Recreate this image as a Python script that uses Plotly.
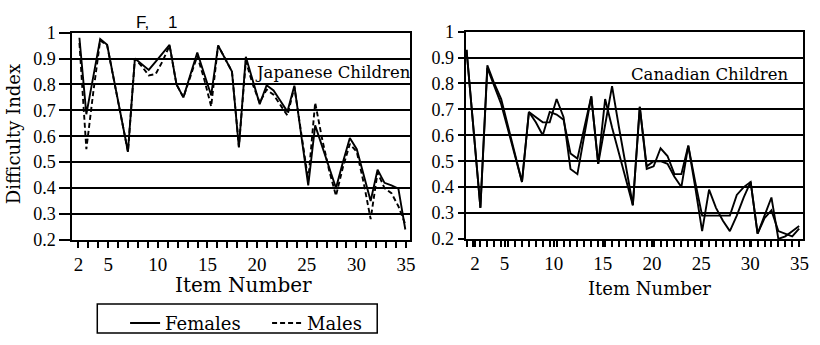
import numpy as np
import plotly.graph_objects as go

# Difficulty index per test item, Japanese children
jp_female = [0.98, 0.685, 0.83, 0.975, 0.953, 0.815, 0.678, 0.54, 0.90, 0.878,
             0.856, 0.888, 0.921, 0.953, 0.80, 0.75, 0.837, 0.923, 0.84, 0.758,
             0.95, 0.90, 0.85, 0.557, 0.907, 0.815, 0.724, 0.797, 0.777, 0.736,
             0.695, 0.795, 0.60, 0.41, 0.642, 0.561, 0.481, 0.40, 0.50, 0.593,
             0.55, 0.45, 0.35, 0.471, 0.42, 0.41, 0.398, 0.24]
jp_male = [0.96, 0.55, 0.77, 0.97, 0.95, 0.81, 0.68, 0.54, 0.90, 0.87,
           0.835, 0.84, 0.89, 0.95, 0.80, 0.75, 0.83, 0.91, 0.82, 0.715,
           0.95, 0.90, 0.85, 0.56, 0.89, 0.80, 0.73, 0.78, 0.76, 0.72,
           0.68, 0.79, 0.60, 0.43, 0.73, 0.59, 0.47, 0.37, 0.48, 0.57,
           0.54, 0.42, 0.28, 0.46, 0.40, 0.38, 0.33, 0.26]

# Difficulty index per test item, Canadian children
ca_female = [0.93, 0.62, 0.32, 0.87, 0.80, 0.74, 0.63, 0.52, 0.42, 0.69,
             0.67, 0.65, 0.65, 0.74, 0.67, 0.47, 0.45, 0.60, 0.75, 0.49,
             0.74, 0.63, 0.53, 0.43, 0.33, 0.71, 0.47, 0.48, 0.55, 0.52,
             0.45, 0.45, 0.56, 0.40, 0.23, 0.39, 0.32, 0.27, 0.23, 0.29,
             0.36, 0.42, 0.22, 0.29, 0.36, 0.20, 0.21, 0.23, 0.25]
ca_male = [0.93, 0.62, 0.32, 0.86, 0.79, 0.72, 0.62, 0.52, 0.42, 0.69,
           0.65, 0.60, 0.69, 0.68, 0.66, 0.53, 0.51, 0.63, 0.75, 0.49,
           0.64, 0.79, 0.63, 0.48, 0.33, 0.71, 0.48, 0.50, 0.50, 0.49,
           0.44, 0.40, 0.56, 0.42, 0.29, 0.29, 0.29, 0.29, 0.29, 0.37,
           0.40, 0.42, 0.22, 0.28, 0.31, 0.23, 0.22, 0.21, 0.24]

item_ticks = [2, 5, 10, 15, 20, 25, 30, 35]
index_ticks = [0.2, 0.3, 0.4, 0.5, 0.6, 0.7, 0.8, 0.9, 1.0]
index_labels = ["0.2", "0.3", "0.4", "0.5", "0.6", "0.7", "0.8", "0.9", "1"]

# first and last plotted item positions on each panel's item axis
jp_span = (2.1, 34.93)
ca_span = (1.13, 34.97)
jp_x = np.linspace(jp_span[0], jp_span[1], len(jp_female))
ca_x = np.linspace(ca_span[0], ca_span[1], len(ca_female))
ca_step = (ca_span[1] - ca_span[0]) / (len(ca_female) - 1)

W, H = 820, 345
SERIF = "Liberation Serif"
WIDE_SERIF = "DejaVu Serif"


def px(v):
    return v / W


def py(v):
    return 1 - v / H


fig = go.Figure()
line_w = 1.9
fig.add_trace(go.Scatter(x=jp_x, y=jp_female, mode="lines", name="Females",
                         line=dict(color="black", width=line_w), xaxis="x", yaxis="y"))
fig.add_trace(go.Scatter(x=jp_x, y=jp_male, mode="lines", name="Males",
                         line=dict(color="black", width=line_w, dash="5px,3px"),
                         xaxis="x", yaxis="y"))
fig.add_trace(go.Scatter(x=ca_x, y=ca_female, mode="lines", showlegend=False,
                         line=dict(color="black", width=line_w), xaxis="x2", yaxis="y2"))
fig.add_trace(go.Scatter(x=ca_x, y=ca_male, mode="lines", showlegend=False,
                         line=dict(color="black", width=line_w), xaxis="x2", yaxis="y2"))

tick_font = dict(family=SERIF, size=19, color="black")


def x_axis(domain, rng, minor_step, minor_start):
    return dict(domain=domain, range=rng, tickmode="array", tickvals=item_ticks,
                ticktext=[str(t) for t in item_ticks], ticks="outside", ticklen=6,
                tickwidth=1.5, tickcolor="black", showline=True, mirror=True,
                linecolor="black", linewidth=2, showgrid=False, zeroline=False,
                tickfont=tick_font,
                minor=dict(ticks="outside", ticklen=6, tickwidth=1.5, tickcolor="black",
                           dtick=minor_step, tick0=minor_start, showgrid=False))


def y_axis(domain, anchor, ticklen):
    return dict(domain=domain, range=[0.2, 1.0], anchor=anchor, tickmode="array",
                tickvals=index_ticks, ticktext=index_labels, ticks="outside",
                ticklen=ticklen, tickwidth=1.8, tickcolor="black", showline=True,
                mirror=True, linecolor="black", linewidth=2, showgrid=True,
                gridcolor="black", gridwidth=1.8, zeroline=False,
                tickfont=dict(family=SERIF, size=18, color="black"))


fig.update_layout(
    width=W, height=H,
    margin=dict(l=0, r=0, t=0, b=0),
    paper_bgcolor="white", plot_bgcolor="white",
    xaxis=x_axis([px(73), px(413)], [1.4, 35.4], 1, 2),
    yaxis=y_axis([py(244), py(24)], "x", 11),
    xaxis2=dict(x_axis([px(469), px(809)], [1.03, 35.37], ca_step, ca_span[0]), anchor="y2"),
    yaxis2=y_axis([py(243), py(23)], "x2", 6),
    showlegend=True,
    legend=dict(orientation="h", x=px(126), y=py(313), xanchor="left", yanchor="top",
                borderwidth=0, bgcolor="rgba(0,0,0,0)",
                font=dict(family=WIDE_SERIF, size=18, color="black"),
                entrywidth=97, itemwidth=30),
    # frame drawn around the legend entries
    shapes=[dict(type="rect", xref="paper", yref="paper",
                 x0=px(98), x1=px(380), y0=py(343), y1=py(312),
                 line=dict(color="black", width=1.5), fillcolor="rgba(0,0,0,0)")],
    annotations=[
        dict(text="F,\u00a0\u00a0\u00a0\u00a01", x=px(135), y=py(13), xref="paper", yref="paper",
             xanchor="left", yanchor="middle", showarrow=False,
             font=dict(family="Liberation Sans", size=17, color="black")),
        dict(text="Japanese Children", x=px(335), y=py(66), xref="paper", yref="paper",
             xanchor="center", yanchor="middle", showarrow=False,
             font=dict(family=WIDE_SERIF, size=16.5, color="black")),
        dict(text="Canadian Children", x=px(715), y=py(69), xref="paper", yref="paper",
             xanchor="center", yanchor="middle", showarrow=False,
             font=dict(family=WIDE_SERIF, size=16.5, color="black")),
        dict(text="Difficulty Index", x=px(13), y=py(132), xref="paper", yref="paper",
             xanchor="center", yanchor="middle", textangle=-90, showarrow=False,
             font=dict(family=WIDE_SERIF, size=18, color="black")),
        dict(text="Item Number", x=px(245), y=py(292), xref="paper", yref="paper",
             xanchor="center", yanchor="middle", showarrow=False,
             font=dict(family=WIDE_SERIF, size=20, color="black")),
        dict(text="Item Number", x=px(654), y=py(296), xref="paper", yref="paper",
             xanchor="center", yanchor="middle", showarrow=False,
             font=dict(family=WIDE_SERIF, size=18, color="black")),
    ],
)

fig.write_html("out.html")
